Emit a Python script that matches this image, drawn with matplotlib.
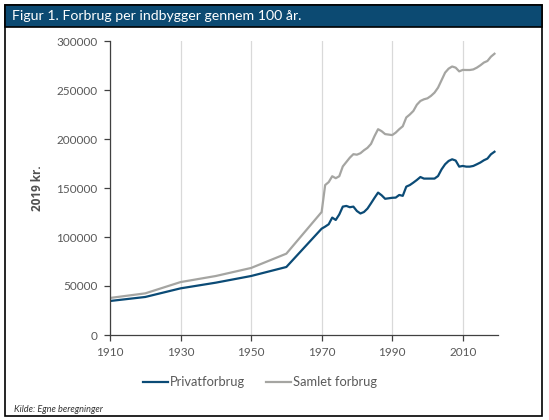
import matplotlib
matplotlib.use("Agg")
import matplotlib.pyplot as plt
from matplotlib.patches import Rectangle
from matplotlib.ticker import FuncFormatter

plt.rcParams['font.family'] = ['Lato', 'DejaVu Sans']

# data, thousand kr. (2019 prices)
years = [1910, 1920, 1930, 1940, 1950, 1960] + list(range(1970, 2020))
privat = [34.7, 38.8, 47.6, 53.4, 60.2, 69.4,
          108.5, 110.6, 113.0, 119.8, 117.4, 123.0, 131.0, 131.7, 130.4, 131.0,
          126.5, 124.0, 125.5, 129.0, 134.4, 140.0, 145.3, 142.6, 139.0, 139.5,
          140.0, 140.2, 142.9, 142.0, 151.4, 153.0, 155.5, 158.2, 161.2, 159.6,
          159.6, 159.6, 159.6, 162.2, 169.0, 174.2, 177.6, 179.3, 178.0, 171.8,
          172.5, 171.8, 171.8, 172.5, 174.2, 176.0, 178.3, 180.0, 184.4, 187.0]
samlet = [37.8, 42.5, 54.0, 60.2, 68.4, 83.0,
          125.5, 153.0, 156.0, 162.0, 160.0, 162.0, 172.0, 176.5, 181.0, 184.5,
          184.0, 185.5, 188.5, 191.0, 195.0, 203.0, 210.0, 208.0, 205.0, 204.5,
          204.0, 206.5, 210.0, 213.0, 222.0, 225.0, 228.6, 235.0, 238.8, 240.5,
          241.5, 244.0, 247.3, 252.4, 260.0, 267.7, 271.8, 274.0, 272.8, 269.0,
          270.5, 270.4, 270.4, 271.0, 272.8, 275.2, 278.0, 279.6, 284.0, 287.0]
privat = [v * 1000 for v in privat]
samlet = [v * 1000 for v in samlet]

xticks = [1910, 1930, 1950, 1970, 1990, 2010]
yticks = [0, 50000, 100000, 150000, 200000, 250000, 300000]

blue = '#0b4b76'
grey = '#a5a5a2'
txt = '#595959'

fig = plt.figure(figsize=(5.49, 4.2), dpi=100)

# frame and header
fig.patches.append(Rectangle((5 / 549, 1 - 416 / 420), 537 / 549, 411 / 420,
                             transform=fig.transFigure, fill=False,
                             edgecolor='black', linewidth=1.2))
fig.patches.append(Rectangle((5 / 549, 1 - 27 / 420), 537 / 549, 22 / 420,
                             transform=fig.transFigure, facecolor='#0c4a72',
                             edgecolor='black', linewidth=1.2))
fig.text(12 / 549, 1 - 16 / 420, 'Figur 1. Forbrug per indbygger gennem 100 år.',
         color='white', fontsize=10.2, va='center', ha='left')

ax = fig.add_axes([110 / 549, 85 / 420, 388 / 549, 294 / 420])
ax.plot(years, privat, color=blue, lw=1.6, label='Privatforbrug')
ax.plot(years, samlet, color=grey, lw=1.6, label='Samlet forbrug')

ax.set_xlim(1910, 2020)
ax.set_ylim(0, 300000)
ax.set_xticks(xticks)
ax.set_yticks(yticks)
ax.yaxis.set_major_formatter(FuncFormatter(lambda v, p: '%d' % v))
ax.grid(axis='x', color='#d9d9d9', lw=0.9)
ax.set_axisbelow(True)

for s in ['top', 'right']:
    ax.spines[s].set_visible(False)
for s in ['left', 'bottom']:
    ax.spines[s].set_color('#404040')
    ax.spines[s].set_linewidth(0.9)
ax.tick_params(axis='both', colors='#404040', labelcolor=txt, labelsize=8.5,
               length=4, width=0.9, pad=5)

ax.set_ylabel('2019 kr.', fontsize=8.5, fontweight='bold', color='#505050',
              labelpad=9, family=['Open Sans', 'DejaVu Sans'])

ax.legend(loc='upper center', bbox_to_anchor=(0.387, -0.1), ncol=2, frameon=False,
          fontsize=9.3, labelcolor=txt, handlelength=1.9, handletextpad=0.2,
          columnspacing=1.6)

fig.text(14 / 549, 1 - 409 / 420, 'Kilde: Egne beregninger', fontsize=6.6,
         style='italic', color='#333333', va='center')

fig.savefig('out.png', dpi=100)
